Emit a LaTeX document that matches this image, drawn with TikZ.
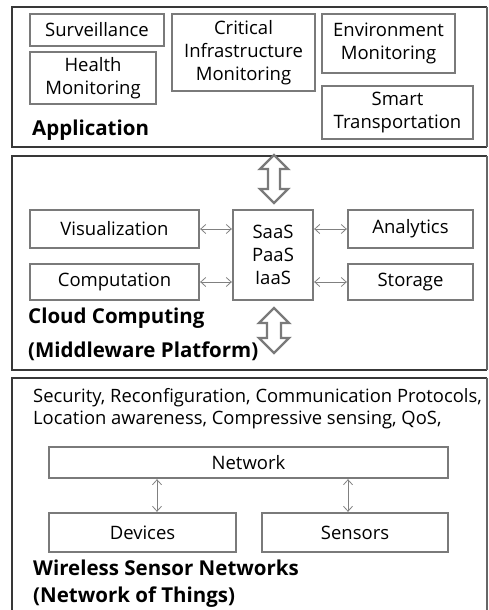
\documentclass[tikz,border=0pt]{standalone}
\usepackage{fontspec}
\setmainfont{Open Sans}
\usetikzlibrary{arrows.meta,calc}
\begin{document}
\begin{tikzpicture}[x=1pt,y=-1pt,
  panelline/.style={draw=black!78,line width=2.6pt},
  box/.style={draw=black!52,line width=2.3pt,fill=white,inner sep=0pt,align=center,
    font=\fontsize{18.5}{22.8}\selectfont},
  title/.style={anchor=west,inner sep=0pt,font=\fontsize{20.5}{24}\selectfont\bfseries},
  plain/.style={anchor=west,inner sep=0pt,font=\fontsize{18.4}{22}\selectfont},
  link/.style={{Straight Barb[length=5pt,width=9pt]}-{Straight Barb[length=5pt,width=9pt]},
    draw=black!50,line width=0.8pt},
  bigarrow/.style={draw=black!52,line width=2.3pt,fill=white,line join=miter}]
\useasboundingbox (0,0) rectangle (489,610);

% layer panels
\draw[panelline] (487,7) -- (12,7) -- (12,147) -- (487,147);
\draw[draw=black!60,line width=1.3pt] (487,7) -- (487,147);
\draw[panelline] (487,156) -- (12,156) -- (12,370) -- (487,370);
\draw[draw=black!60,line width=1.3pt] (487,156) -- (487,370);
\draw[panelline] (12,615) -- (12,378) -- (487,378);
\draw[draw=black!60,line width=1.3pt] (487,378) -- (487,615);

% application layer
\node[box,minimum width=134pt,minimum height=32pt] (surv) at (97,30) {Surveillance};
\node[box,minimum width=126pt,minimum height=52pt] (health) at (93,78) {Health\\Monitoring};
\node[box,minimum width=143pt,minimum height=77pt] (crit) at (243.5,52.5) {Critical\\Infrastructure\\Monitoring};
\node[box,minimum width=133pt,minimum height=59pt] (env) at (388.5,43.5) {Environment\\Monitoring};
\node[box,minimum width=151pt,minimum height=53pt] (smart) at (397.5,112.5) {Smart\\Transportation};
\node[title] (app) at (32,130) {Application};

% middleware layer
\node[box,minimum width=169pt,minimum height=38pt] (vis) at (114.5,229) {Visualization};
\node[box,minimum width=169pt,minimum height=36pt] (comp) at (114.5,282) {Computation};
\node[box,minimum width=80pt,minimum height=90pt] (svc) at (273,255) {SaaS\\PaaS\\IaaS};
\node[box,minimum width=125pt,minimum height=38pt] (ana) at (410.5,229) {Analytics};
\node[box,minimum width=125pt,minimum height=36pt] (stor) at (410.5,282) {Storage};
\node[title] (cloud) at (28,318) {Cloud Computing};
\node[title] (mid) at (28,351) {(Middleware Platform)};

\draw[link] (vis.east) -- (vis.east -| svc.west);
\draw[link] (comp.east) -- (comp.east -| svc.west);
\draw[link] (svc.east |- ana.west) -- (ana.west);
\draw[link] (svc.east |- stor.west) -- (stor.west);

% hollow double arrows between layers
\draw[bigarrow] (274,155) -- (288,169) -- (280,169) -- (280,189) -- (288,189) -- (274,203)
  -- (260,189) -- (268,189) -- (268,169) -- (260,169) -- cycle;
\draw[bigarrow] (274,308) -- (289,323) -- (281,323) -- (281,338) -- (289,338) -- (274,353)
  -- (259,338) -- (267,338) -- (267,323) -- (259,323) -- cycle;

% sensor network layer
\node[plain] (feat1) at (33,398) {Security, Reconfiguration, Communication Protocols,};
\node[plain] (feat2) at (33,420) {Location awareness, Compressive sensing, QoS,};
\node[box,minimum width=399pt,minimum height=31pt] (net) at (248.5,462.5) {Network};
\node[box,minimum width=187pt,minimum height=39pt] (dev) at (142.5,532.5) {Devices};
\node[box,minimum width=186pt,minimum height=39pt] (sens) at (355,532.5) {Sensors};
\node[title] (wsn) at (33,568) {Wireless Sensor Networks};
\node[title] (not) at (33,597) {(Network of Things)};

\draw[link] ([xshift=14.5pt]dev.north |- net.south) -- ([xshift=14.5pt]dev.north);
\draw[link] ([xshift=-7pt]sens.north |- net.south) -- ([xshift=-7pt]sens.north);
\end{tikzpicture}
\end{document}
